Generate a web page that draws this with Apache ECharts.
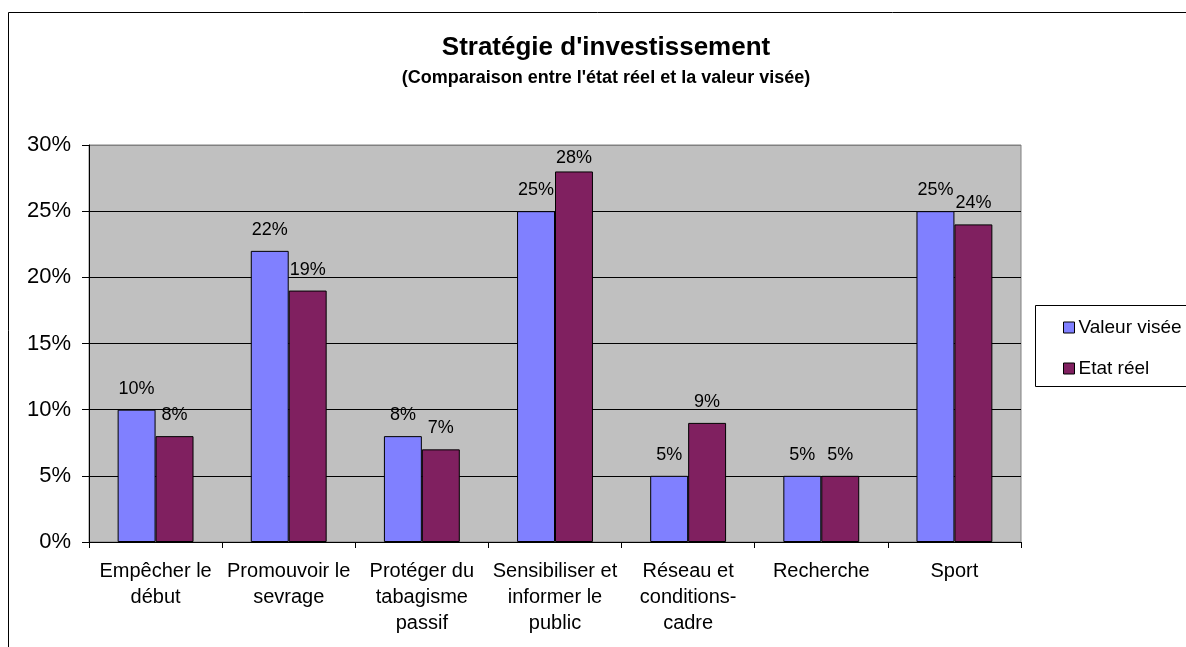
<!DOCTYPE html>
<html><head><meta charset="utf-8">
<script src="https://cdn.jsdelivr.net/npm/echarts@6/dist/echarts.min.js"></script>
<style>html,body{margin:0;padding:0;background:#fff}#c{width:1186px;height:647px}</style>
</head><body><div id="c"></div>
<script>
const categories = ["Empêcher le\ndébut","Promouvoir le\nsevrage","Protéger du\ntabagisme\npassif","Sensibiliser et\ninformer le\npublic","Réseau et\nconditions-\ncadre","Recherche","Sport"];
const valeurVisee = [10,22,8,25,5,5,25];
const etatReel = [8,19,7,28,9,5,24];
const seriesNames = ["Valeur visée","Etat réel"];
const titleText = "Stratégie d'investissement";
const subtitleText = "(Comparaison entre l'état réel et la valeur visée)";
const FONT = "'Liberation Sans', Arial, sans-serif";
const chart = echarts.init(document.getElementById('c'));
const lbl = {show:true, position:'top', distance:12, color:'#000', fontSize:18, fontFamily:FONT, formatter: p => p.value + '%'};
// Labels near the top of the plot are pushed down to fit inside it
const withFit = arr => arr.map(v => v >= 27 ? {value:v, label:{distance:4}} : v);
chart.setOption({
  animation:false,
  backgroundColor:'#fff',
  textStyle:{fontFamily:FONT},
  graphic:[
    {type:'rect', shape:{x:8.5,y:12.5,width:1200,height:700}, style:{fill:'none', stroke:'#000', lineWidth:1}, z:-1},
    {type:'rect', shape:{x:1035.5,y:305.5,width:200,height:81}, style:{fill:'#fff', stroke:'#000', lineWidth:1}, z:0},
    {type:'text', x:606, y:48, style:{text:titleText, font:"bold 26px "+FONT, fill:'#000', textAlign:'center', textVerticalAlign:'middle'}},
    {type:'text', x:606, y:78, style:{text:subtitleText, font:"bold 18px "+FONT, fill:'#000', textAlign:'center', textVerticalAlign:'middle'}}
  ],
  legend:{
    orient:'vertical', left:1058, top:313, itemGap:22,
    icon:'rect', itemWidth:11, itemHeight:11, z:5,
    textStyle:{fontSize:19, color:'#000', fontFamily:FONT, padding:[0,0,0,-1]},
    itemStyle:{borderColor:'#000', borderWidth:1},
    data:seriesNames
  },
  grid:{left:89, right:165, top:145, bottom:105, show:true, backgroundColor:'#c0c0c0', borderColor:'#808080', borderWidth:1, containLabel:false},
  xAxis:{
    type:'category', data:categories,
    axisLine:{lineStyle:{color:'#000', width:1}},
    axisTick:{show:true, length:6, lineStyle:{color:'#000'}},
    axisLabel:{color:'#000', fontSize:20, fontFamily:FONT, margin:16, lineHeight:26, interval:0}
  },
  yAxis:{
    type:'value', min:0, max:30, interval:5,
    axisLine:{show:true, lineStyle:{color:'#000'}},
    axisTick:{show:true, length:7, lineStyle:{color:'#000'}},
    axisLabel:{color:'#000', fontSize:22, fontFamily:FONT, margin:18, formatter:'{value}%'},
    splitLine:{show:true, lineStyle:{color:['#000','#000','#000','#000','#000','#000','#808080'], width:1}}
  },
  series:[
    {name:seriesNames[0], type:'bar', data:withFit(valeurVisee), barGap:'0%', barCategoryGap:'43%',
     itemStyle:{color:'#8080ff', borderColor:'#000', borderWidth:1}, label:lbl},
    {name:seriesNames[1], type:'bar', data:withFit(etatReel),
     itemStyle:{color:'#802060', borderColor:'#000', borderWidth:1}, label:lbl}
  ]
});
</script></body></html>
